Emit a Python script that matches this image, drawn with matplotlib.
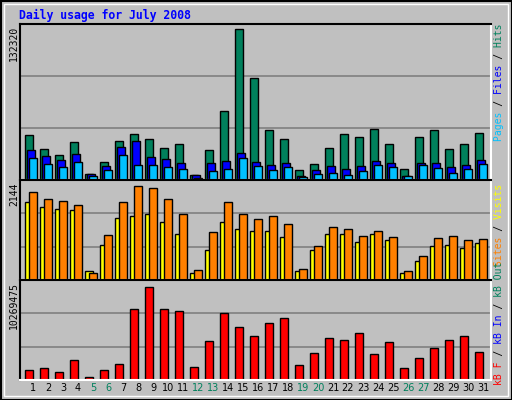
import numpy as np
import matplotlib.pyplot as plt

days = [str(d) for d in range(1, 32)]
weekend = [5, 6, 12, 13, 19, 20, 26, 27]

max_hits = 132320
max_visits = 2144
max_kbytes = 10269475

# (pixel heights scaled to the labelled maxima)
hits_px = [337, 379, 397, 358, 451, 418, 355, 334, 349, 376, 364, 454, 382, 268, 28, 172,
           322, 349, 442, 424, 376, 334, 343, 319, 364, 439, 343, 322, 379, 364, 331]
files_px = [382, 400, 412, 394, 453, 430, 373, 355, 403, 409, 421, 456, 421, 415, 391, 418,
            427, 421, 457, 442, 430, 439, 430, 415, 421, 457, 421, 421, 433, 427, 412]
pages_px = [406, 424, 433, 418, 457, 442, 397, 427, 427, 433, 439, 463, 445, 439, 406, 430,
            442, 433, 460, 451, 448, 454, 445, 427, 433, 457, 427, 436, 448, 439, 424]
hits = [(470 - v) / 442 * max_hits for v in hits_px]
files = [(470 - v) / 442 * max_hits for v in files_px]
pages = [(470 - v) / 442 * max_hits for v in pages_px]

visits_px = [67, 79, 85, 88, 268, 193, 112, 106, 100, 124, 160, 274, 208, 124, 145, 151,
             151, 169, 268, 208, 160, 160, 184, 160, 178, 274, 238, 196, 193, 202, 187]
sites_px = [37, 58, 64, 73, 274, 163, 67, 18, 25, 58, 100, 265, 154, 67, 100, 115,
            106, 130, 262, 196, 139, 145, 166, 151, 169, 268, 223, 172, 166, 178, 175]
visits = [(295 - v) / 277 * max_visits for v in visits_px]
sites = [(295 - v) / 277 * max_visits for v in sites_px]

kb_px = [562, 556, 568, 532, 583, 562, 544, 382, 319, 382, 388, 553, 478, 394, 436, 463,
         424, 409, 547, 514, 469, 475, 454, 517, 481, 556, 526, 499, 475, 463, 511]
kbytes = [(592 - v) / 273 * max_kbytes for v in kb_px]

BG = "#c0c0c0"
W, H = 512, 400
fig = plt.figure(figsize=(W / 100, H / 100), dpi=100, facecolor=BG)

# outer border
fig.add_artist(plt.Rectangle((0.5 / W, 0.5 / H), 1 - 1 / W, 1 - 1 / H, transform=fig.transFigure,
                             fill=False, ec="black", lw=1.5))
fig.add_artist(plt.Rectangle((4 / W, 4 / H), 1 - 8 / W, 1 - 8 / H, transform=fig.transFigure,
                             fill=False, ec="white", lw=1))

fig.text(19 / W, 1 - 15 / H, "Daily usage for July 2008", color="#0000ff",
         family="DejaVu Sans Mono", weight="bold", fontsize=8.3, va="center")

x = np.arange(31) * 15.0
bw = 7.7


def panel(top, bottom, scale_top):
    ax = fig.add_axes([20 / W, 1 - bottom / H, 471 / W, (bottom - top) / H])
    ax.set_facecolor(BG)
    ax.set_xlim(0, 471)
    ax.set_ylim(0, scale_top)
    ax.set_xticks([])
    ax.set_yticks([scale_top / 3, 2 * scale_top / 3])
    ax.tick_params(left=False, labelleft=False)
    ax.grid(axis="y", color="#808080", lw=1.2)
    ax.set_axisbelow(True)
    ax.spines["left"].set_color("black")
    ax.spines["top"].set_color("black")
    ax.spines["right"].set_color("white")
    ax.spines["bottom"].set_color("white")
    for s in ax.spines.values():
        s.set_linewidth(1.5)
    return ax


def side_label(yc, parts):
    full = "".join(p for p, c in parts)
    pos = 0
    for p, c in parts:
        s = " " * pos + p + " " * (len(full) - pos - len(p))
        fig.text(499 / W, 1 - yc / H, s, color=c, rotation=90, family="DejaVu Sans Mono",
                 fontsize=7, ha="center", va="center")
        pos += len(p)


ax1 = panel(24, 180, max_hits * 152.7 / 147.4)
ax1.bar(x + 5, hits, bw, align="edge", color="#00805c", ec="black", lw=1)
ax1.bar(x + 7, files, bw, align="edge", color="#0000ff", ec="black", lw=1)
ax1.bar(x + 9, pages, bw, align="edge", color="#00c0ff", ec="black", lw=1)
fig.text(14 / W, 1 - 26 / H, str(max_hits), rotation=90, family="DejaVu Sans Mono",
         fontsize=7, ha="center", va="top")
side_label(82, [("Pages", "#00c0ff"), (" / ", "black"), ("Files", "#0000ff"),
                (" / ", "black"), ("Hits", "#00805c")])

ax2 = panel(180, 280, max_visits * 98 / 92.3)
ax2.bar(x + 5, visits, bw, align="edge", color="#ffff00", ec="black", lw=1)
ax2.bar(x + 9, sites, bw, align="edge", color="#ff8000", ec="black", lw=1)
fig.text(14 / W, 1 - 182 / H, str(max_visits), rotation=90, family="DejaVu Sans Mono",
         fontsize=7, ha="center", va="top")
side_label(225, [("Sites", "#ff8000"), (" / ", "black"), ("Visits", "#ffff00")])

ax3 = panel(280, 380, max_kbytes * 98 / 91)
ax3.bar(x + 5, kbytes, bw, align="edge", color="#ff0000", ec="black", lw=1)
fig.text(14 / W, 1 - 282 / H, str(max_kbytes), rotation=90, family="DejaVu Sans Mono",
         fontsize=7, ha="center", va="top")
side_label(323, [("kB F", "#ff0000"), (" / ", "black"), ("kB In", "#0000ff"),
                 (" / ", "black"), ("kB Out", "#00805c")])

for i, d in enumerate(days):
    c = "#00805c" if i + 1 in weekend else "black"
    fig.text((20 + x[i] + 13) / W, 1 - 388 / H, d, color=c, fontsize=7,
             ha="center", va="center")

fig.savefig("out.png", dpi=100, facecolor=BG)
